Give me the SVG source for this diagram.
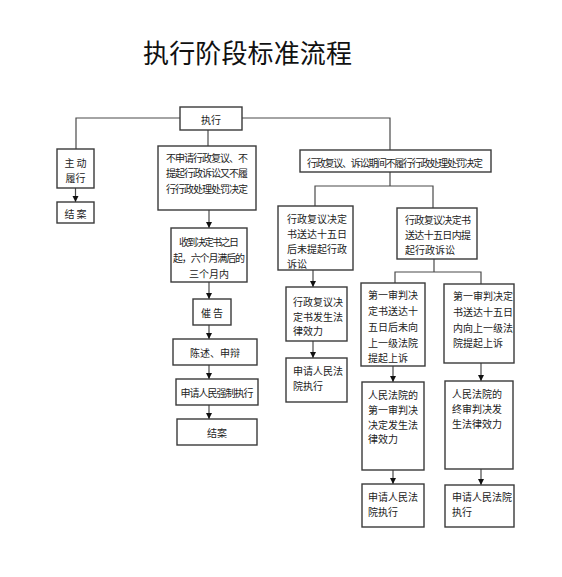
<svg xmlns="http://www.w3.org/2000/svg" width="562" height="577" viewBox="0 0 562 577">
<style>
.box{fill:#fff;stroke:#3a3a3a;stroke-width:1.4}
.t{font-family:"Noto Sans CJK SC","Noto Sans",sans-serif;font-size:10px;fill:#222;dominant-baseline:central}
.c{text-anchor:middle}
.ln{fill:none;stroke:#4a4a4a;stroke-width:1.2}
.title{font-family:"Noto Sans CJK SC",sans-serif;font-size:26px;fill:#111}
</style>
<defs>
<marker id="ah" markerUnits="userSpaceOnUse" markerWidth="7" markerHeight="7" refX="6" refY="3" orient="auto">
<path d="M0,0 L6,3 L0,6 z" fill="#111"/>
</marker>
</defs>
<rect width="562" height="577" fill="#fff"/>
<text class="title" x="143" y="63" textLength="209">执行阶段标准流程</text>
<g id="connectors">
<polyline class="ln" points="76,149 76,118 390,118 390,150"/>
<line class="ln" x1="208" y1="130" x2="208" y2="146"/>
<line class="ln" x1="75.5" y1="188" x2="75.5" y2="202" marker-end="url(#ah)"/>
<line class="ln" x1="209" y1="210" x2="209" y2="228" marker-end="url(#ah)"/>
<line class="ln" x1="209" y1="282" x2="209" y2="299" marker-end="url(#ah)"/>
<line class="ln" x1="209" y1="325" x2="209" y2="339" marker-end="url(#ah)"/>
<line class="ln" x1="209" y1="365" x2="209" y2="379" marker-end="url(#ah)"/>
<line class="ln" x1="209" y1="405" x2="209" y2="419" marker-end="url(#ah)"/>
<line class="ln" x1="390" y1="172" x2="390" y2="186"/>
<polyline class="ln" points="315,206 315,186 433,186 433,208"/>
<line class="ln" x1="313" y1="270" x2="313" y2="287" marker-end="url(#ah)"/>
<line class="ln" x1="313" y1="341" x2="313" y2="358" marker-end="url(#ah)"/>
<line class="ln" x1="434" y1="259" x2="434" y2="272"/>
<polyline class="ln" points="395,283 395,272 481,272 481,284"/>
<line class="ln" x1="393" y1="366" x2="393" y2="382" marker-end="url(#ah)"/>
<line class="ln" x1="481" y1="363" x2="481" y2="381" marker-end="url(#ah)"/>
<line class="ln" x1="393" y1="470" x2="393" y2="484" marker-end="url(#ah)"/>
<line class="ln" x1="481" y1="469" x2="481" y2="485" marker-end="url(#ah)"/>
</g>
<g id="n-zhixing"><rect class="box" x="180" y="107" width="62" height="23"/><text class="t c" x="211" y="119">执行</text></g>
<g id="n-zhudong"><rect class="box" x="57" y="149" width="37" height="39"/><text class="t c" x="75.5" y="162">主 动</text><text class="t c" x="75.5" y="177">履行</text></g>
<g id="n-jiean1"><rect class="box" x="57" y="202" width="37" height="21"/><text class="t c" x="75.5" y="213">结 案</text></g>
<g id="n-bushenqing"><rect class="box" x="158" y="146" width="98" height="64"/>
<text class="t c" x="207" y="157" textLength="82">不申请行政复议、不</text>
<text class="t c" x="207" y="172" textLength="82">提起行政诉讼又不履</text>
<text class="t c" x="207" y="188" textLength="82">行行政处理处罚决定</text></g>
<g id="n-shoudao"><rect class="box" x="171" y="228" width="76" height="54"/>
<text class="t c" x="209" y="241" textLength="60">收到决定书之日</text>
<text class="t c" x="209" y="257" textLength="72">起，六个月满后的</text>
<text class="t c" x="209" y="273">三个月内</text></g>
<g id="n-cuigao"><rect class="box" x="193" y="299" width="38" height="26"/><text class="t c" x="212" y="312">催 告</text></g>
<g id="n-chenshu"><rect class="box" x="173" y="339" width="84" height="26"/><text class="t c" x="215" y="352">陈述、申辩</text></g>
<g id="n-qiangzhi"><rect class="box" x="176" y="379" width="82" height="26"/><text class="t c" x="217" y="392" textLength="73">申请人民强制执行</text></g>
<g id="n-jiean2"><rect class="box" x="177" y="419" width="80" height="26"/><text class="t c" x="217" y="432">结案</text></g>
<g id="n-qijian"><rect class="box" x="300" y="150" width="191" height="22"/><text class="t c" x="395" y="162" textLength="176">行政复议、诉讼期间不履行行政处理处罚决定</text></g>
<g id="n-fuyi-hou"><rect class="box" x="278" y="206" width="75" height="64"/>
<text class="t" x="287" y="218" textLength="60">行政复议决定</text>
<text class="t" x="287" y="233" textLength="60">书送达十五日</text>
<text class="t" x="287" y="248" textLength="60">后未提起行政</text>
<text class="t" x="287" y="263">诉讼</text></g>
<g id="n-fuyi-nei"><rect class="box" x="397" y="208" width="80" height="51"/>
<text class="t" x="405" y="219" textLength="66">行政复议决定书</text>
<text class="t" x="405" y="234" textLength="66">送达十五日内提</text>
<text class="t" x="405" y="249">起行政诉讼</text></g>
<g id="n-fuyi-shengxiao"><rect class="box" x="286" y="287" width="61" height="54"/>
<text class="t" x="293" y="301">行政复议决</text>
<text class="t" x="293" y="316">定书发生法</text>
<text class="t" x="293" y="330">律效力</text></g>
<g id="n-shenqing1"><rect class="box" x="286" y="358" width="61" height="44"/>
<text class="t" x="293" y="370">申请人民法</text>
<text class="t" x="293" y="385">院执行</text></g>
<g id="n-yishen-hou"><rect class="box" x="361" y="283" width="64" height="83"/>
<text class="t" x="368" y="294" textLength="50">第一审判决</text>
<text class="t" x="368" y="310" textLength="50">定书送达十</text>
<text class="t" x="368" y="326" textLength="50">五日后未向</text>
<text class="t" x="368" y="342" textLength="50">上一级法院</text>
<text class="t" x="368" y="357">提起上诉</text></g>
<g id="n-yishen-nei"><rect class="box" x="444" y="284" width="70" height="79"/>
<text class="t" x="453" y="295">第一审判决定</text>
<text class="t" x="453" y="311">书送达十五日</text>
<text class="t" x="453" y="327">内向上一级法</text>
<text class="t" x="453" y="342">院提起上诉</text></g>
<g id="n-yishen-shengxiao"><rect class="box" x="362" y="382" width="62" height="88"/>
<text class="t" x="368" y="394" textLength="50">人民法院的</text>
<text class="t" x="368" y="409" textLength="50">第一审判决</text>
<text class="t" x="368" y="424" textLength="50">决定发生法</text>
<text class="t" x="368" y="438">律效力</text></g>
<g id="n-zhongshen"><rect class="box" x="445" y="381" width="68" height="88"/>
<text class="t" x="452" y="393" textLength="50">人民法院的</text>
<text class="t" x="452" y="408" textLength="50">终审判决发</text>
<text class="t" x="452" y="423">生法律效力</text></g>
<g id="n-shenqing2"><rect class="box" x="362" y="484" width="62" height="43"/>
<text class="t" x="368" y="496" textLength="50">申请人民法</text>
<text class="t" x="368" y="511">院执行</text></g>
<g id="n-shenqing3"><rect class="box" x="445" y="485" width="69" height="42"/>
<text class="t" x="452" y="496">申请人民法院</text>
<text class="t" x="452" y="511">执行</text></g>
</svg>
